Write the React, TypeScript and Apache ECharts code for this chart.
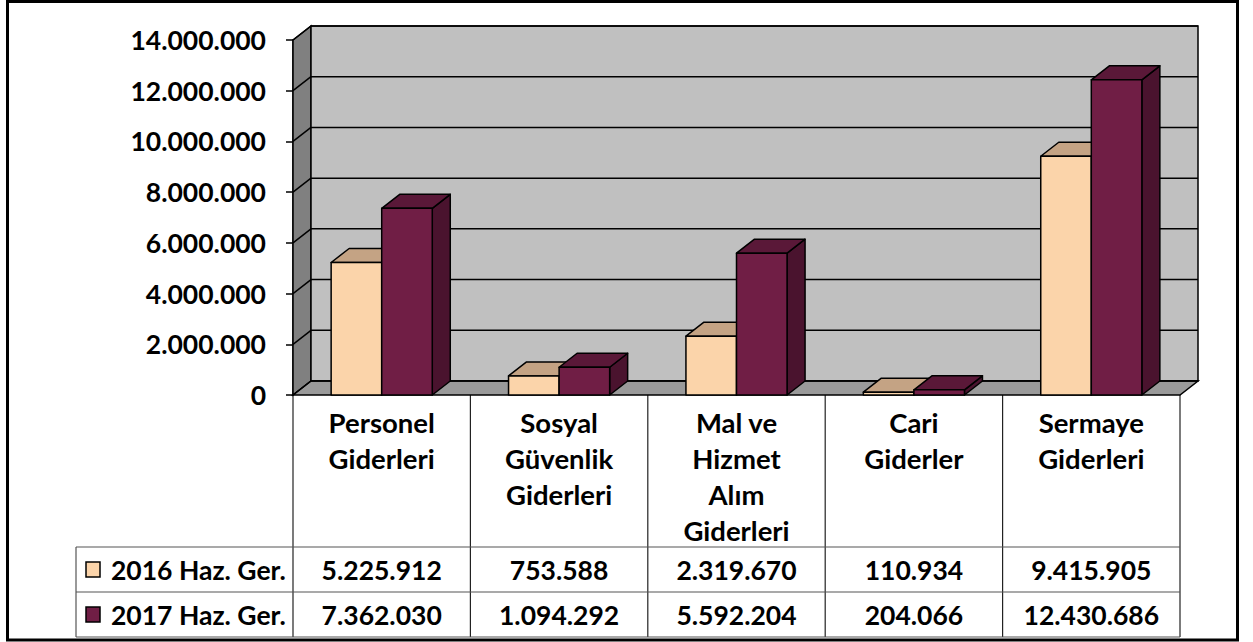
import React, { useEffect, useRef } from "react";
import * as echarts from "echarts";

const categories = [
  "Personel\nGiderleri",
  "Sosyal\nGüvenlik\nGiderleri",
  "Mal ve\nHizmet\nAlım\nGiderleri",
  "Cari\nGiderler",
  "Sermaye\nGiderleri",
];
const seriesNames = ["2016 Haz. Ger.", "2017 Haz. Ger."];
const values2016 = [5225912, 753588, 2319670, 110934, 9415905];
const values2017 = [7362030, 1094292, 5592204, 204066, 12430686];
const Y_MIN = 0;
const Y_MAX = 14000000;
const Y_STEP = 2000000;

const FONT = "Lato, 'Open Sans', sans-serif";
const FS_NUM = 26.5;
const FS_CAT = 27.5;
const FS_LEG = 26.5;
const DX = 18;
const DY = 14;
const BAR_FRAC = 0.285;

const GRID_LEFT = 293;
const GRID_RIGHT_X = 1180;
const GRID_TOP = 40;
const GRID_BOTTOM_Y = 395;
const ROW1_Y = 547;
const ROW2_Y = 592;
const TABLE_BOTTOM = 637;
const LEGEND_LEFT = 76;

const palettes = [
  { front: "#FBD4AA", top: "#C4A384", side: "#B08F6E" },
  { front: "#701E45", top: "#5A1838", side: "#4A132E" },
];

const fmt = (v: number) => String(Math.round(v)).replace(/\B(?=(\d{3})+(?!\d))/g, ".");

const yTicks: number[] = [];
for (let t = Y_MIN; t <= Y_MAX; t += Y_STEP) yTicks.push(t);

function wallRender(params: any, api: any) {
  const cs = params.coordSys;
  const x = cs.x, y = cs.y, w = cs.width, h = cs.height;
  const bottom = y + h, right = x + w;
  const stroke = { stroke: "#000", lineWidth: 1.5 };
  const children: any[] = [
    {
      type: "polygon",
      shape: { points: [[x, y], [x + DX, y - DY], [x + DX, bottom - DY], [x, bottom]] },
      style: { fill: "#808080", ...stroke },
    },
    {
      type: "rect",
      shape: { x: x + DX, y: y - DY, width: w, height: h },
      style: { fill: "#C0C0C0", ...stroke },
    },
    {
      type: "polygon",
      shape: { points: [[x, bottom], [x + DX, bottom - DY], [right + DX, bottom - DY], [right, bottom]] },
      style: { fill: "#9A9A9A", ...stroke },
    },
  ];
  yTicks.forEach((t) => {
    const yf = api.coord([0, t])[1];
    children.push({
      type: "line",
      shape: { x1: x + DX, y1: yf - DY, x2: right + DX, y2: yf - DY },
      style: { ...stroke },
    });
    children.push({
      type: "line",
      shape: { x1: x, y1: yf, x2: x + DX, y2: yf - DY },
      style: { ...stroke },
    });
  });
  return { type: "group", children };
}

function makeBarRender(sIdx: number) {
  const pal = palettes[sIdx];
  const rowY = sIdx === 0 ? (ROW1_Y + ROW2_Y) / 2 : (ROW2_Y + TABLE_BOTTOM) / 2;
  return (params: any, api: any) => {
    const idx = api.value(0);
    const val = api.value(1);
    const base = api.coord([idx, 0]);
    const top = api.coord([idx, val]);
    const bw = api.size([1, 0])[0] * BAR_FRAC;
    const cx = base[0];
    const x0 = sIdx === 0 ? cx - bw : cx;
    const x1 = x0 + bw;
    const yT = top[1];
    const yB = base[1];
    const st = { stroke: "#000", lineWidth: 1.5, lineJoin: "round" };
    return {
      type: "group",
      children: [
        {
          type: "polygon",
          shape: { points: [[x1, yT], [x1 + DX, yT - DY], [x1 + DX, yB - DY], [x1, yB]] },
          style: { fill: pal.side, ...st },
        },
        {
          type: "polygon",
          shape: { points: [[x0, yT], [x0 + DX, yT - DY], [x1 + DX, yT - DY], [x1, yT]] },
          style: { fill: pal.top, ...st },
        },
        {
          type: "polygon",
          shape: { points: [[x0, yT], [x1, yT], [x1, yB], [x0, yB]] },
          style: { fill: pal.front, ...st },
        },
        {
          type: "text",
          style: {
            text: fmt(val),
            x: cx,
            y: rowY,
            align: "center",
            verticalAlign: "middle",
            fontFamily: FONT,
            fontWeight: "bold",
            fontSize: FS_NUM,
            fill: "#000",
          },
        },
      ],
    };
  };
}

export default function App() {
  const ref = useRef<HTMLDivElement>(null);
  useEffect(() => {
    if (!ref.current) return;
    const chart = echarts.init(ref.current, null, { renderer: "svg" });
    const colW = (GRID_RIGHT_X - GRID_LEFT) / categories.length;
    const tableLines: any[] = [];
    const line = (x1: number, y1: number, x2: number, y2: number, color = "#222", lw = 1.2) =>
      tableLines.push({
        type: "line",
        shape: { x1, y1, x2, y2 },
        style: { stroke: color, lineWidth: lw },
        silent: true,
      });
    for (let i = 0; i <= categories.length; i++) {
      const xx = GRID_LEFT + i * colW;
      line(xx, GRID_BOTTOM_Y, xx, TABLE_BOTTOM);
    }
    line(LEGEND_LEFT, ROW1_Y, GRID_RIGHT_X, ROW1_Y, "#555");
    line(LEGEND_LEFT, ROW2_Y, GRID_RIGHT_X, ROW2_Y, "#555");
    line(LEGEND_LEFT, TABLE_BOTTOM, GRID_RIGHT_X, TABLE_BOTTOM, "#555");
    line(LEGEND_LEFT, ROW1_Y, LEGEND_LEFT, TABLE_BOTTOM, "#555");

    const legendItems: any[] = [];
    seriesNames.forEach((name, i) => {
      const cy = i === 0 ? (ROW1_Y + ROW2_Y) / 2 : (ROW2_Y + TABLE_BOTTOM) / 2;
      legendItems.push({
        type: "rect",
        shape: { x: 86, y: cy - 7.5, width: 14, height: 15 },
        style: { fill: palettes[i].front, stroke: "#000", lineWidth: 1.5 },
      });
      legendItems.push({
        type: "text",
        style: {
          text: name,
          x: 111,
          y: cy,
          align: "left",
          verticalAlign: "middle",
          fontFamily: FONT,
          fontWeight: "bold",
          fontSize: FS_LEG,
          fill: "#000",
        },
      });
    });

    chart.setOption({
      animation: false,
      backgroundColor: "#fff",
      grid: {
        left: GRID_LEFT,
        right: 1253 - GRID_RIGHT_X,
        top: GRID_TOP,
        bottom: 642 - GRID_BOTTOM_Y,
        containLabel: false,
      },
      xAxis: {
        type: "category",
        data: categories,
        axisLine: { show: false },
        axisTick: { show: false },
        axisLabel: {
          interval: 0,
          margin: 9,
          fontFamily: FONT,
          fontWeight: "bold",
          fontSize: FS_CAT,
          lineHeight: 36,
          color: "#000",
          verticalAlign: "top",
        },
      },
      yAxis: {
        type: "value",
        min: Y_MIN,
        max: Y_MAX,
        interval: Y_STEP,
        splitLine: { show: false },
        axisLine: { show: true, lineStyle: { color: "#000", width: 1.5 } },
        axisTick: { show: true, length: 7, lineStyle: { color: "#000", width: 1.5 } },
        axisLabel: {
          margin: 27,
          fontFamily: FONT,
          fontWeight: "bold",
          fontSize: FS_NUM,
          color: "#000",
          formatter: (v: number) => fmt(v),
        },
      },
      graphic: [
        ...tableLines,
        ...legendItems,
        {
          type: "rect",
          shape: { x: 7.5, y: 1.5, width: 1230, height: 638.5 },
          style: { fill: "none", stroke: "#000", lineWidth: 3 },
          silent: true,
        },
      ],
      series: [
        {
          type: "custom",
          name: "walls",
          renderItem: wallRender,
          data: [[0, 0]],
          clip: false,
          z: 1,
        },
        {
          type: "custom",
          name: seriesNames[0],
          renderItem: makeBarRender(0),
          data: values2016.map((v, i) => [i, v]),
          clip: false,
          z: 2,
        },
        {
          type: "custom",
          name: seriesNames[1],
          renderItem: makeBarRender(1),
          data: values2017.map((v, i) => [i, v]),
          clip: false,
          z: 3,
        },
      ],
    });
    return () => chart.dispose();
  }, []);
  return (
    <div
      ref={ref}
      style={{ position: "absolute", left: 0, top: 0, width: 1253, height: 642 }}
    />
  );
}
